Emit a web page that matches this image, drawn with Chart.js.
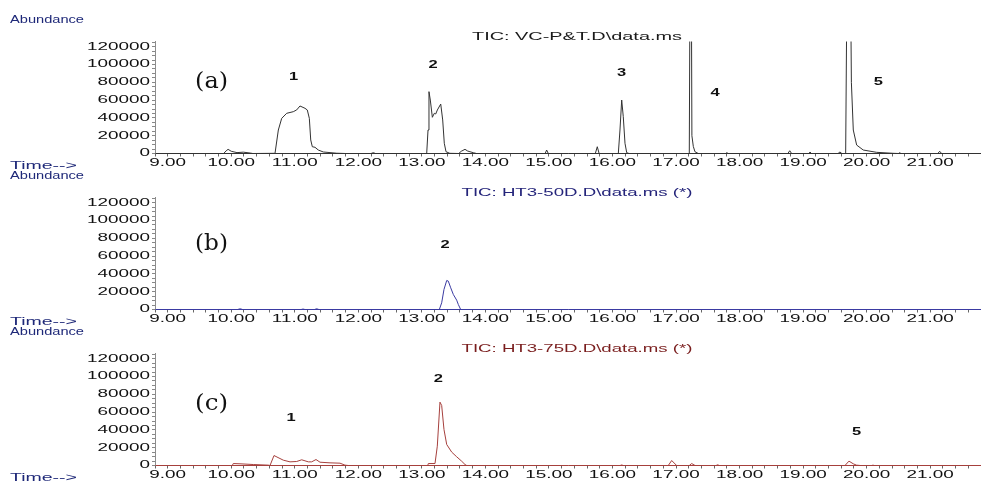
<!DOCTYPE html>
<html><head><meta charset="utf-8">
<script src="https://cdn.jsdelivr.net/npm/chart.js@4.4.1/dist/chart.umd.min.js"></script>
<style>
html,body{margin:0;padding:0;background:#fff;}
#wrap{position:relative;width:981px;height:483px;overflow:hidden;background:#fff;}
canvas{position:absolute;left:0;width:981px;height:170px;}
</style></head><body>
<div id="wrap">
<canvas id="ca" width="981" height="170" style="top:0px"></canvas>
<canvas id="cb" width="981" height="170" style="top:156px"></canvas>
<canvas id="cc" width="981" height="170" style="top:312px"></canvas>
</div>
<script>
// ---------- data (retention time in min, abundance) ----------
const timeA = [8.80, 9.88, 9.92, 9.95, 10.00, 10.09, 10.19, 10.30, 10.34,
  10.689, 10.741, 10.794, 10.873, 10.977, 11.03, 11.082, 11.161, 11.197, 11.229, 11.251, 11.276, 11.318, 11.370, 11.449, 11.66, 11.80,
  12.20, 12.236, 12.27,
  13.076, 13.097, 13.112, 13.133, 13.165, 13.196, 13.218, 13.244, 13.297, 13.328, 13.353, 13.380, 13.44,
  13.58, 13.62, 13.679, 13.72, 13.757, 13.81, 13.86,
  14.94, 14.964, 14.99,
  15.73, 15.761, 15.79,
  16.092, 16.118, 16.145, 16.170, 16.197, 16.224, 16.26,
  17.209, 17.232, 17.250, 17.272, 17.298, 17.35,
  17.78, 17.80, 17.82,
  18.76, 18.79, 18.82,
  19.09, 19.11, 19.13,
  19.55, 19.58, 19.61,
  19.670, 19.718, 19.760, 19.790, 19.843, 19.947, 20.158, 20.42,
  20.50, 20.52, 20.54,
  21.12, 21.15, 21.18,
  21.8];
const abundA = [0, 0, 3000, 4700, 2500, 1000, 1500, 500, 0,
  200, 26400, 39500, 45200, 47000, 49000, 53400, 50800, 48900, 39500, 15200, 7600, 7000, 3900, 1700, 300, 0,
  0, 900, 0,
  0, 26400, 69500, 60100, 40700, 45200, 44400, 48900, 55600, 37700, 11500, 2000, 200,
  0, 2500, 4700, 2800, 2000, 900, 0,
  0, 3900, 0,
  0, 7600, 0,
  0, 26400, 60100, 41400, 11500, 900, 0,
  0, 400000, 20000, 8000, 2000, 0,
  0, 900, 0,
  0, 3100, 0,
  0, 1700, 0,
  0, 1700, 0,
  0, 450000, 80000, 26400, 9500, 3900, 1300, 200,
  0, 900, 0,
  0, 2500, 0,
  0];

const timeB = [8.80, 10.10, 10.14, 10.18, 11.10, 11.13, 11.16, 11.31, 11.345, 11.38,
  13.275, 13.312, 13.348, 13.391, 13.416, 13.454, 13.495, 13.548, 13.574, 13.611, 21.8];
const abundB = [0, 0, 800, 0, 0, 500, 0, 0, 800, 0,
  0, 7500, 22500, 32600, 31900, 24400, 16900, 10500, 5600, 0, 0];

const timeC = [8.80, 10.017, 10.032, 10.138, 10.347, 10.583, 10.610, 10.673, 10.819, 10.925, 11.030, 11.109, 11.213, 11.266, 11.334, 11.397, 11.554, 11.712, 11.790, 11.842,
  13.092, 13.102, 13.207, 13.243, 13.285, 13.312, 13.348, 13.391, 13.470, 13.548, 13.627, 13.679, 13.706,
  16.12, 16.145, 16.17,
  16.878, 16.932, 17.01,
  17.209, 17.246, 17.30,
  17.63, 17.656, 17.68,
  19.659, 19.722, 19.79, 19.84, 19.90,
  20.08, 20.10, 20.12,
  21.8];
const abundC = [0, 0, 2200, 1900, 1100, 400, 0, 11200, 6000, 4100, 4500, 6400, 4100, 4100, 6700, 3700, 3000, 2600, 400, 0,
  0, 2200, 2200, 21700, 71200, 67500, 40500, 23600, 15000, 9800, 4800, 1100, 0,
  0, 600, 0,
  0, 5600, 0,
  0, 2200, 0,
  0, 800, 0,
  0, 4900, 1900, 400, 0,
  0, 400, 0,
  0];

const xTickLabels = ['9.00','10.00','11.00','12.00','13.00','14.00','15.00','16.00','17.00','18.00','19.00','20.00','21.00'];
const yTickLabels = ['0','20000','40000','60000','80000','100000','120000'];

const titles = ['TIC: VC-P&T.D\\data.ms', 'TIC: HT3-50D.D\\data.ms (*)', 'TIC: HT3-75D.D\\data.ms (*)'];
const panelTags = ['(a)', '(b)', '(c)'];
// peak number labels: [label, time, abundance]
const peaksA = [['1', 10.98, 86500], ['2', 13.175, 99500], ['3', 16.145, 90100], ['4', 17.613, 67700], ['5', 20.183, 80700]];
const peaksB = [['2', 13.364, 72000]];
const peaksC = [['1', 10.94, 52900], ['2', 13.26, 96700], ['5', 19.843, 37500]];
const tagPos = [[9.69, 79800], [9.69, 73700], [9.69, 68600]];

// ---------- helpers ----------
const X_MIN = 8.8, X_MAX = 21.8, Y_MAX = 126000;
const xMinorTicks = [];
for (let i = 0; i <= 65; i++) xMinorTicks.push(Math.round((X_MIN + i * 0.2) * 10) / 10);
const yMinorTicks = [];
for (let v = 0; v <= 125000; v += 5000) yMinorTicks.push(v);

const TICK_STRETCH = 1.8;
function patchCtx(ctx) {
  const orig = ctx.fillText;
  ctx.fillText = function (text, x, y) {
    const sx = (this._sx != null) ? this._sx : TICK_STRETCH;
    this.save();
    this.translate(x, y);
    this.scale(sx, 1);
    orig.call(this, text, 0, 0);
    this.restore();
  };
}

const textPlugin = {
  id: 'texts',
  afterDraw(chart, args, opts) {
    const ctx = chart.ctx, xs = chart.scales.x, ys = chart.scales.y;
    for (const t of opts.items) {
      ctx.save();
      ctx.font = t.font;
      ctx.fillStyle = t.color;
      ctx.textAlign = t.align || 'center';
      ctx.textBaseline = 'middle';
      let px, py;
      if (t.data) { px = xs.getPixelForValue(t.data[0]); py = ys.getPixelForValue(t.data[1]); }
      else { px = t.px; py = t.py; }
      const w = ctx.measureText(t.text).width;
      ctx._sx = t.width ? t.width / w : (t.sx || 1);
      ctx.fillText(t.text, px, py);
      ctx._sx = null;
      ctx.restore();
    }
  }
};

const NAVY = '#1e2878';
function makePanel(id, times, values, lineColor, titleColor, title, tag, tagAt, peaks) {
  const canvas = document.getElementById(id);
  const ctx = canvas.getContext('2d');
  patchCtx(ctx);
  const items = [
    { text: 'Abundance', px: 10, py: 20, align: 'left', font: '11.5px "Liberation Sans"', color: NAVY, width: 74 },
    { text: 'Time-->', px: 10, py: 165.5, align: 'left', font: '11.5px "Liberation Sans"', color: NAVY, width: 67 },
    { text: title, px: 577, py: 36.5, align: 'center', font: '11px "Liberation Sans"', color: titleColor, width: title.length > 22 ? 231 : 210 },
    { text: tag, data: tagAt, font: '23px "DejaVu Serif"', color: '#111', width: 33 }
  ];
  for (const p of peaks) items.push({ text: p[0], data: [p[1], p[2]], font: 'bold 11px "Liberation Sans"', color: '#111', sx: 1.5 });
  return new Chart(canvas, {
    type: 'scatter',
    data: { datasets: [{ data: times.map((t, i) => ({ x: t, y: values[i] })), showLine: true, borderColor: lineColor, borderWidth: 1, pointRadius: 0, tension: 0, fill: false }] },
    options: {
      responsive: false, animation: false, events: [],
      layout: { padding: { top: 41.4, left: 0, right: 0, bottom: 0 } },
      plugins: { legend: { display: false }, tooltip: { enabled: false }, texts: { items } },
      scales: {
        x: {
          type: 'linear', min: X_MIN, max: X_MAX,
          afterBuildTicks: s => { s.ticks = xMinorTicks.map(v => ({ value: v })); },
          afterFit: s => { s.height = 16.5; s.paddingLeft = 0; s.paddingRight = 0; },
          ticks: {
            autoSkip: false, maxRotation: 0, minRotation: 0, padding: 0, color: '#111',
            font: { family: 'Liberation Sans', size: 10.5 },
            callback: v => { const l = xTickLabels.find(s => Math.abs(parseFloat(s) - v) < 1e-6); return l || ''; }
          },
          grid: { drawOnChartArea: false, drawTicks: true, tickLength: 3, tickColor: '#666' },
          border: { display: true, color: lineColor, width: 1 }
        },
        y: {
          type: 'linear', min: 0, max: Y_MAX,
          afterBuildTicks: s => { s.ticks = yMinorTicks.map(v => ({ value: v })); },
          afterFit: s => { s.width = 155; s.paddingTop = 0; s.paddingBottom = 0; },
          ticks: {
            autoSkip: false, padding: 2, color: '#111',
            font: { family: 'Liberation Sans', size: 10.5 },
            callback: v => { const l = yTickLabels.find(s => Number(s) === v); return l || ''; }
          },
          grid: { drawOnChartArea: false, drawTicks: true, tickLength: 3, tickColor: '#888' },
          border: { display: true, color: '#8c8c8c', width: 1 }
        }
      }
    },
    plugins: [textPlugin]
  });
}

makePanel('ca', timeA, abundA, '#333333', '#1a1a1a', titles[0], panelTags[0], tagPos[0], peaksA);
makePanel('cb', timeB, abundB, '#3b3ba2', '#24247a', titles[1], panelTags[1], tagPos[1], peaksB);
makePanel('cc', timeC, abundC, '#a6403d', '#7a1e1e', titles[2], panelTags[2], tagPos[2], peaksC);
</script>
</body></html>
